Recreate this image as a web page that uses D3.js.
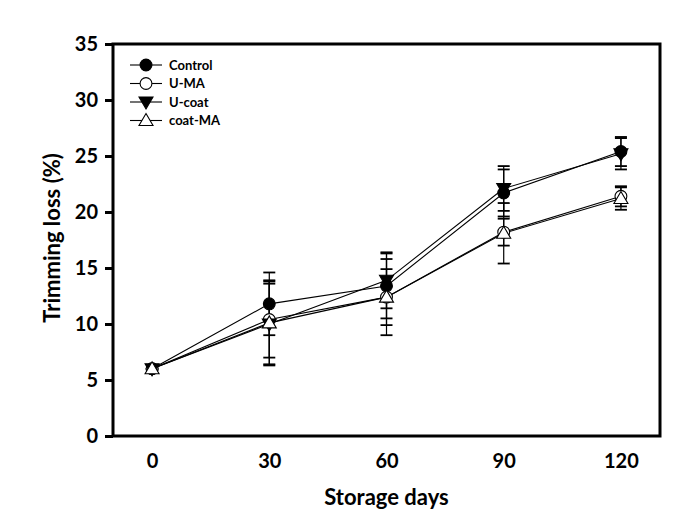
<!DOCTYPE html>
<html><head><meta charset="utf-8">
<script src="https://cdn.jsdelivr.net/npm/d3@7/dist/d3.min.js"></script>
<style>body{margin:0;background:#fff}svg{display:block}text{font-family:Lato,"Open Sans",sans-serif;font-weight:bold;fill:#000}</style>
</head><body><svg id="c" width="675" height="515"></svg>
<script>
const days = [0, 30, 60, 90, 120];
const seriesNames = ["Control", "U-MA", "U-coat", "coat-MA"];
const controlVals = [6.0, 11.8, 13.4, 21.7, 25.4];
const controlErr  = [0.1, 2.8, 2.9, 2.1, 1.3];
const umaVals     = [6.0, 10.4, 12.4, 18.2, 21.4];
const umaErr      = [0.1, 3.4, 3.4, 1.2, 0.9];
const ucoatVals   = [6.0, 10.0, 13.9, 22.1, 25.2];
const ucoatErr    = [0.1, 3.6, 2.5, 2.0, 1.4];
const coatmaVals  = [6.0, 10.1, 12.4, 18.1, 21.2];
const coatmaErr   = [0.1, 3.8, 2.5, 2.7, 1.0];
const yTicks = [0, 5, 10, 15, 20, 25, 30, 35];
const xTicks = [0, 30, 60, 90, 120];

const series = [
  {name: seriesNames[0], vals: controlVals, err: controlErr, sym: "circle", fill: "#000"},
  {name: seriesNames[1], vals: umaVals, err: umaErr, sym: "circle", fill: "#fff"},
  {name: seriesNames[2], vals: ucoatVals, err: ucoatErr, sym: "down", fill: "#000"},
  {name: seriesNames[3], vals: coatmaVals, err: coatmaErr, sym: "up", fill: "#fff"}
];

const svg = d3.select("#c");
const L = 113, R = 660, T = 44, B = 436;
const x = d3.scaleLinear().domain([-10, 130]).range([L, R]);
const y = d3.scaleLinear().domain([0, 35]).range([B, T]);

function symPath(sym) {
  if (sym === "circle") return d3.symbol(d3.symbolCircle, 110)();
  if (sym === "up") return "M0,-7L7,5L-7,5Z";
  return "M0,7L7,-5L-7,-5Z";
}

const g = svg.append("g");
series.forEach(s => {
  days.forEach((d, i) => {
    const cx = x(d), top = y(s.vals[i] + s.err[i]), bot = y(s.vals[i] - s.err[i]);
    g.append("line").attr("x1", cx).attr("x2", cx).attr("y1", top).attr("y2", bot).attr("stroke", "#000").attr("stroke-width", 1.2);
    [top, bot].forEach(yy => g.append("line").attr("x1", cx - 6).attr("x2", cx + 6).attr("y1", yy).attr("y2", yy).attr("stroke", "#000").attr("stroke-width", 1.8));
  });
});
const line = d3.line().x((v, i) => x(days[i])).y(v => y(v));
series.forEach(s => {
  g.append("path").attr("d", line(s.vals)).attr("fill", "none").attr("stroke", "#000").attr("stroke-width", 1.1);
});
series.forEach(s => {
  days.forEach((d, i) => {
    g.append("path").attr("d", symPath(s.sym)).attr("transform", `translate(${x(d)},${y(s.vals[i])})`)
      .attr("fill", s.fill).attr("stroke", "#000").attr("stroke-width", 1.1);
  });
});

svg.append("rect").attr("x", L).attr("y", T).attr("width", R - L).attr("height", B - T)
  .attr("fill", "none").attr("stroke", "#000").attr("stroke-width", 3);

const yAxis = d3.axisLeft(y).tickValues(yTicks).tickSize(8).tickPadding(7);
const ya = svg.append("g").attr("transform", `translate(${L},0)`).call(yAxis);
ya.select(".domain").remove();
ya.selectAll(".tick line").attr("stroke-width", 3);
ya.selectAll("text").style("font-size", "20px");

const xAxis = d3.axisBottom(x).tickValues(xTicks).tickSize(0).tickPadding(18);
const xa = svg.append("g").attr("transform", `translate(0,${B})`).call(xAxis);
xa.select(".domain").remove();
xa.selectAll("text").style("font-size", "20px");

svg.append("text").attr("x", x(60)).attr("y", 505).attr("text-anchor", "middle").style("font-size", "22px").text("Storage days");
svg.append("text").attr("transform", `translate(60,${(T + B) / 2 - 2}) rotate(-90)`).attr("text-anchor", "middle").style("font-size", "22px").text("Trimming loss (%)");

const lg = svg.append("g");
series.forEach((s, i) => {
  const yy = 65 + i * 18.5;
  lg.append("line").attr("x1", 130).attr("x2", 162).attr("y1", yy).attr("y2", yy).attr("stroke", "#000").attr("stroke-width", 1.1);
  lg.append("path").attr("d", symPath(s.sym)).attr("transform", `translate(146,${yy})`).attr("fill", s.fill).attr("stroke", "#000").attr("stroke-width", 1.1);
  lg.append("text").attr("x", 169).attr("y", yy + 4.5).style("font-size", "13px").text(s.name);
});
</script></body></html>
